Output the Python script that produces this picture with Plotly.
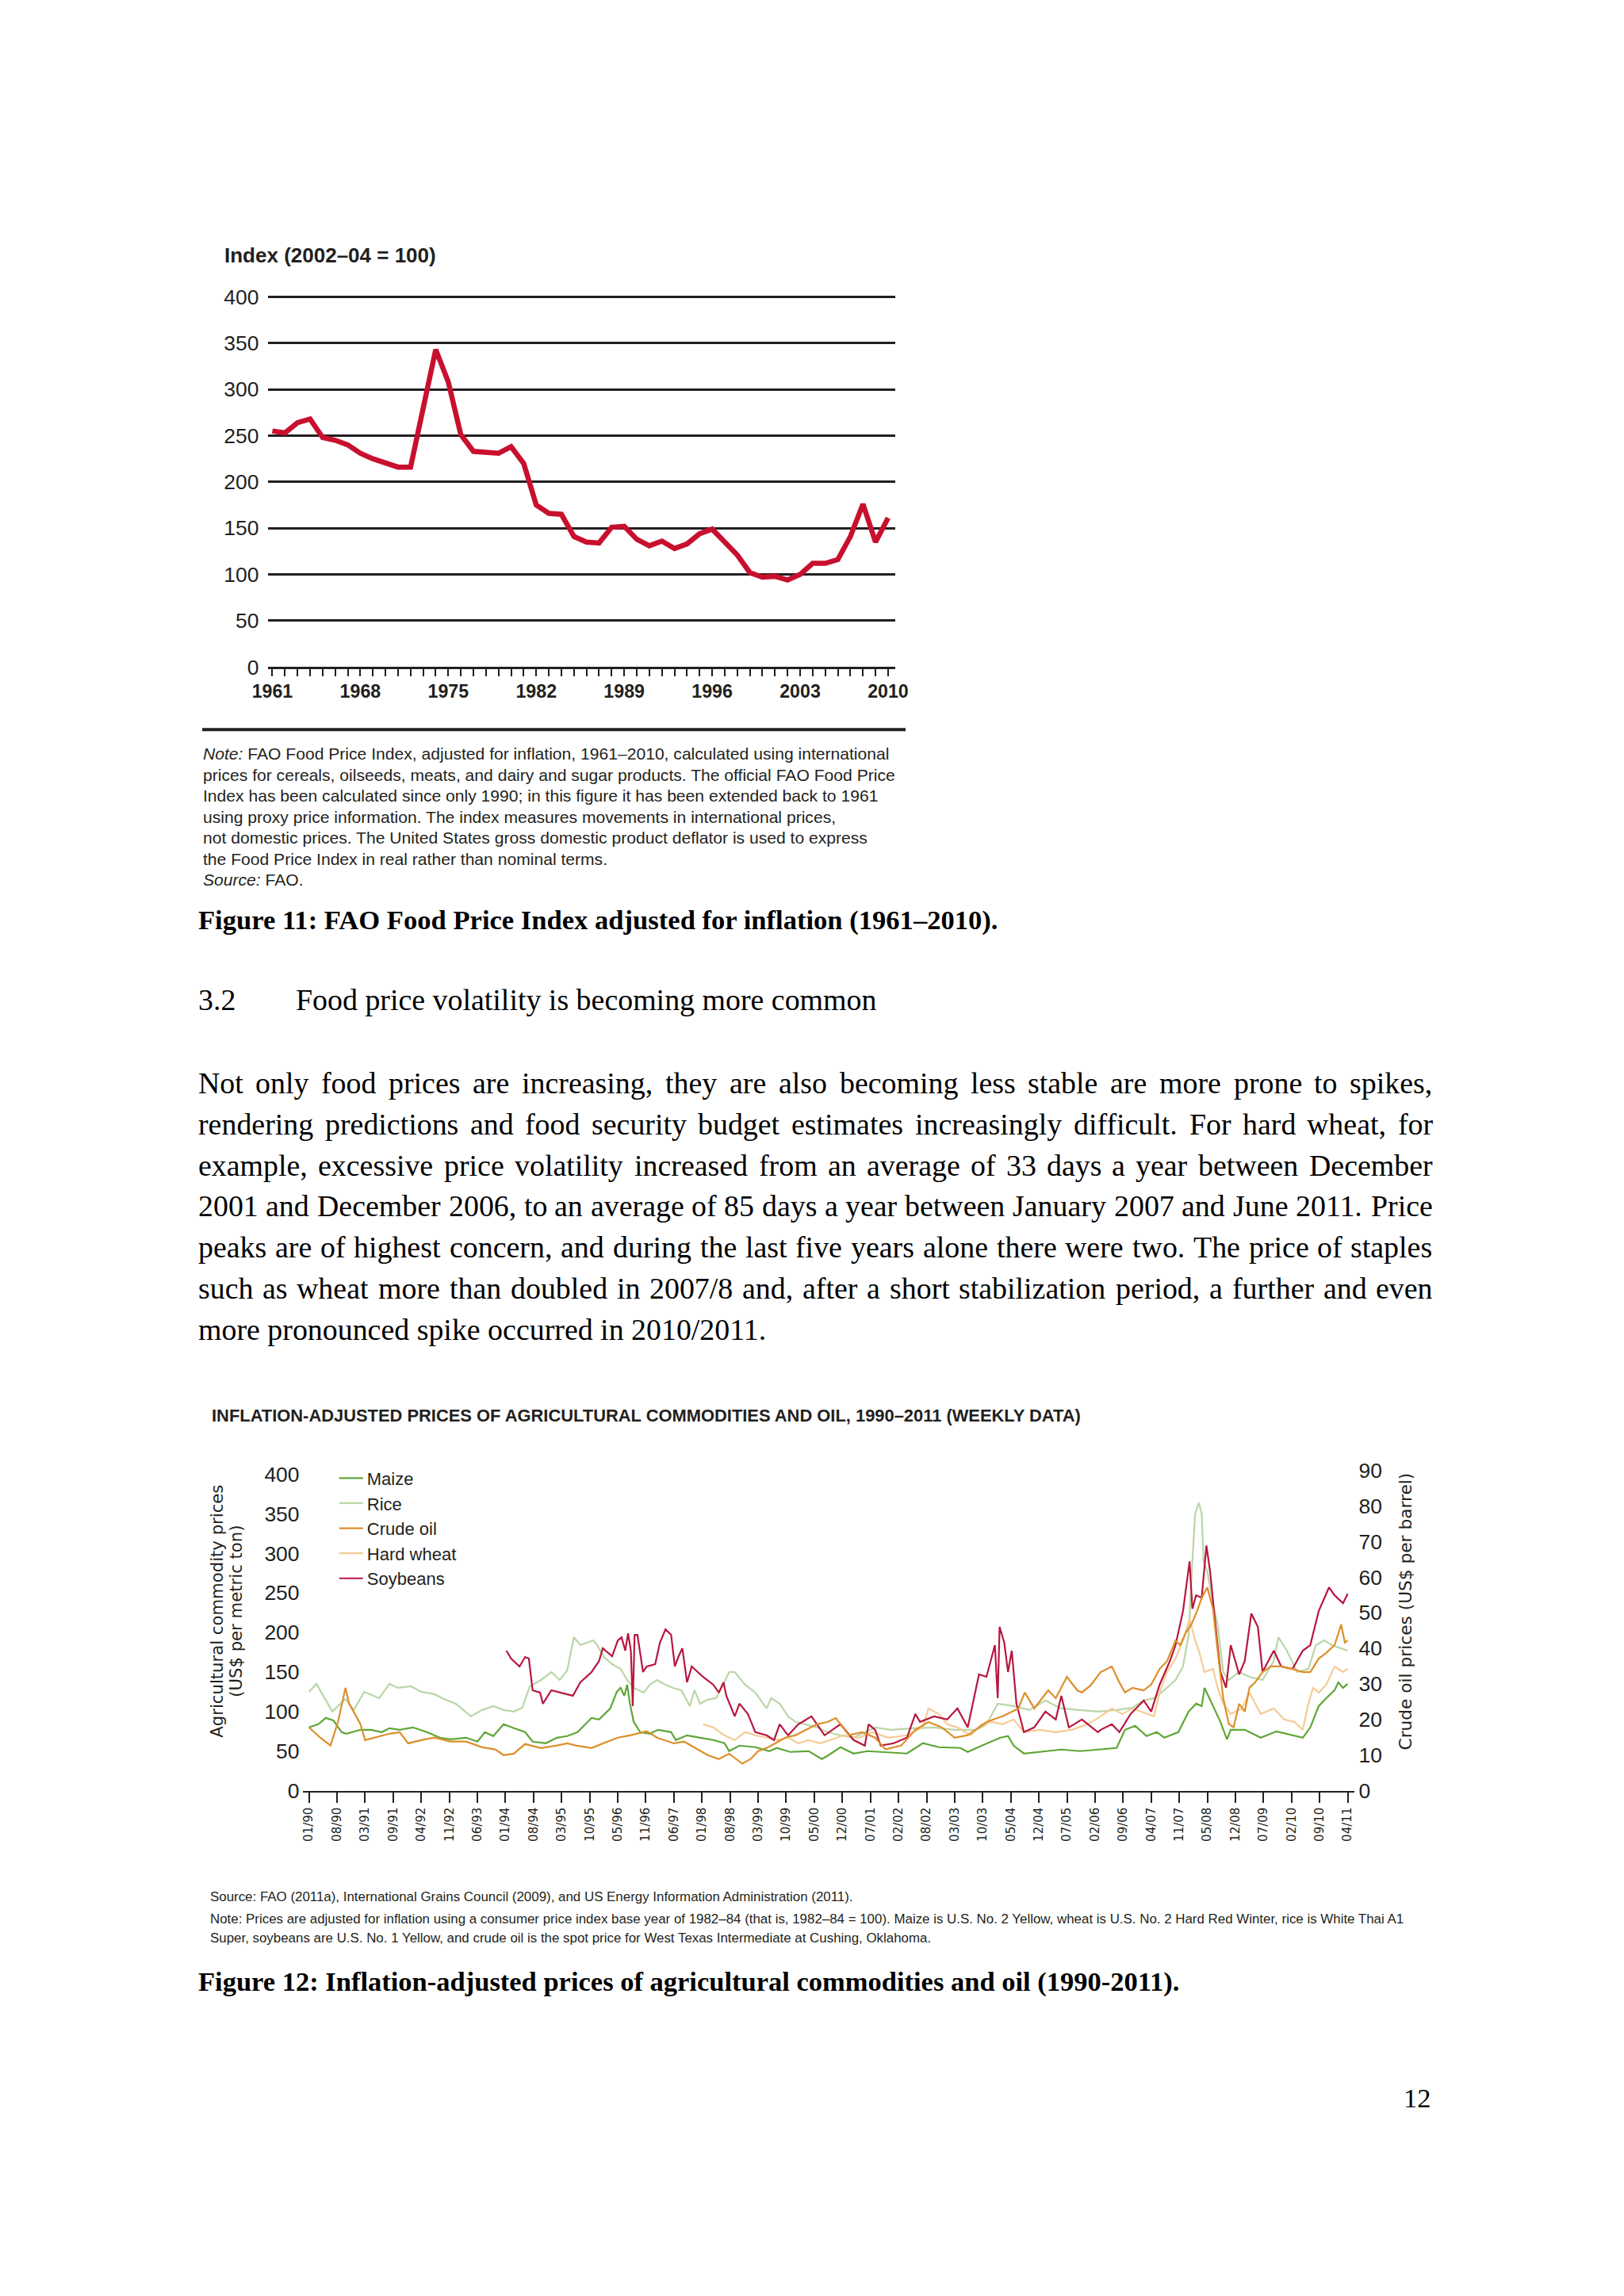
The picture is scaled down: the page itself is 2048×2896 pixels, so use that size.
import plotly.graph_objects as go

W, H = 2048, 2896
# empirical placement calibration (target page px -> figure px)
AX, BX = 0.977, 30.0
AY, BY = 0.9894, 21.9
def px(x): return ((x - BX) / AX) / W
def py(y): return 1 - ((y - BY) / AY) / H

SANS = "Liberation Sans, Arial, sans-serif"
SERIF = "Liberation Serif, Times New Roman, serif"
VERD = "DejaVu Sans, Verdana, sans-serif"
INK = "#231f20"

# ---------------- Figure 11 data ----------------
fao_years = list(range(1961, 2011))
fao_index = [255, 253, 264, 268, 248, 245, 240, 231, 225, 220, 216, 216, 277, 343, 308,
             251, 233, 232, 231, 238, 220, 175, 166, 165, 141, 135, 134, 151, 152, 138,
             131, 136, 128, 133, 144, 149, 135, 121, 102, 97, 98, 94, 100, 112, 112,
             116, 141, 176, 135, 161]
fao_label_years = [1961, 1968, 1975, 1982, 1989, 1996, 2003, 2010]
fao_yticks = [0, 50, 100, 150, 200, 250, 300, 350, 400]

# ---------------- Figure 12 data (x = week number since 01/1990) ----------------
tick_labels = ["01/90", "08/90", "03/91", "09/91", "04/92", "11/92", "06/93", "01/94", "08/94",
               "03/95", "10/95", "05/96", "11/96", "06/97", "01/98", "08/98", "03/99", "10/99",
               "05/00", "12/00", "07/01", "02/02", "08/02", "03/03", "10/03", "05/04", "12/04",
               "07/05", "02/06", "09/06", "04/07", "11/07", "05/08", "12/08", "07/09", "02/10",
               "09/10", "04/11"]
tick_weeks = [30 * i for i in range(len(tick_labels))]

maize_wk = [0, 10, 18, 26, 35, 40, 55, 66, 78, 86, 97, 111, 126, 140, 151, 168, 180, 188, 197, 208,
            219, 231, 239, 253, 265, 276, 287, 302, 310, 322, 329, 333, 337, 340, 343, 347, 354, 364,
            373, 387, 392, 404, 418, 432, 444, 449, 460, 477, 492, 500, 514, 534, 548, 554, 568, 582,
            597, 611, 639, 656, 673, 696, 704, 719, 739, 747, 753, 764, 781, 804, 824, 843, 863, 872,
            883, 895, 906, 914, 929, 940, 948, 954, 957, 961, 966, 974, 981, 985, 1000, 1017, 1034,
            1051, 1062, 1070, 1079, 1087, 1096, 1100, 1105, 1110]
maize_val = [80, 84, 92, 89, 74, 72, 77, 77, 74, 79, 77, 80, 74, 67, 65, 67, 62, 74, 69, 84,
             79, 74, 62, 60, 67, 69, 74, 92, 90, 104, 125, 130, 120, 134, 110, 87, 74, 72,
             77, 74, 64, 70, 67, 64, 60, 50, 57, 55, 50, 54, 49, 50, 40, 44, 55, 47,
             50, 49, 47, 60, 55, 54, 49, 57, 67, 69, 57, 47, 49, 52, 50, 52, 54, 77,
             82, 69, 74, 67, 74, 100, 110, 107, 130, 120, 107, 87, 65, 77, 77, 67, 75,
             70, 67, 80, 107, 117, 127, 137, 130, 135]

rice_wk = [0, 8, 25, 39, 48, 59, 75, 86, 95, 109, 120, 134, 146, 157, 173, 185, 197, 208, 219, 228,
           236, 248, 259, 268, 276, 283, 290, 304, 308, 315, 324, 333, 340, 347, 358, 364, 372, 381,
           389, 398, 407, 412, 418, 426, 435, 441, 449, 455, 466, 477, 489, 494, 503, 512, 520, 529,
           543, 554, 568, 582, 605, 622, 645, 668, 690, 713, 724, 736, 753, 770, 787, 804, 824, 843,
           863, 880, 892, 903, 914, 926, 934, 940, 944, 947, 951, 954, 956, 960, 966, 971, 977, 983,
           994, 1005, 1019, 1031, 1036, 1045, 1056, 1068, 1076, 1085, 1093, 1102, 1110]
rice_val = [125, 135, 100, 116, 102, 125, 117, 135, 130, 132, 125, 122, 115, 110, 94, 102, 107, 102, 100, 105,
            132, 140, 150, 140, 152, 194, 184, 190, 184, 169, 160, 154, 140, 130, 124, 134, 140, 134,
            130, 127, 107, 127, 110, 115, 117, 130, 150, 150, 134, 124, 104, 117, 110, 94, 87, 84,
            80, 74, 70, 67, 80, 77, 79, 80, 77, 77, 84, 110, 107, 102, 114, 104, 102, 100,
            102, 105, 114, 117, 127, 140, 157, 197, 290, 350, 364, 350, 290, 277, 237, 210, 150, 140,
            150, 144, 140, 164, 194, 177, 150, 154, 184, 190, 184, 180, 177]

crude_wk = [0, 12, 23, 31, 39, 43, 49, 55, 60, 75, 86, 97, 106, 120, 134, 151, 168, 185, 199, 208,
            219, 231, 248, 265, 276, 285, 302, 319, 330, 344, 361, 372, 390, 401, 415, 426, 438, 449,
            463, 472, 480, 489, 497, 509, 520, 531, 543, 554, 563, 577, 591, 605, 616, 633, 648, 662,
            676, 690, 704, 724, 741, 758, 765, 775, 790, 798, 810, 821, 826, 835, 846, 858, 866, 872,
            880, 892, 900, 909, 917, 926, 931, 937, 943, 949, 954, 960, 966, 971, 977, 983, 988, 994,
            1000, 1005, 1011, 1019, 1028, 1039, 1051, 1062, 1070, 1079, 1087, 1096, 1103, 1107, 1110]
crude_val = [17.8, 14.9, 12.7, 19.3, 28.9, 24.4, 21.6, 18.7, 14.2, 15.3, 16.0, 16.4, 13.3, 14.2, 14.9, 13.8, 13.8, 12.2, 11.6, 10.0,
             10.4, 13.1, 12.0, 12.7, 13.3, 12.7, 12.0, 13.8, 14.9, 15.6, 16.7, 14.9, 13.3, 13.8, 11.6, 10.0, 8.9, 10.4,
             7.6, 8.9, 11.1, 12.0, 13.1, 14.9, 15.6, 17.1, 18.7, 19.3, 20.4, 15.6, 16.4, 14.9, 11.6, 12.7, 17.1, 19.3,
             17.8, 14.9, 15.6, 19.3, 20.9, 23.1, 27.6, 23.1, 28.2, 26.0, 32.0, 28.2, 27.6, 29.5, 33.3, 34.9, 30.4, 27.6,
             28.9, 28.2, 29.8, 34.2, 36.4, 42.2, 40.9, 44.4, 46.7, 50.4, 54.2, 57.1, 51.1, 39.3, 26.0, 18.7, 17.8, 24.4,
             22.2, 28.9, 30.4, 33.3, 34.9, 34.9, 34.2, 33.3, 33.3, 37.1, 38.7, 40.9, 46.7, 41.6, 42.2]

wheat_wk = [421, 432, 444, 455, 466, 477, 489, 500, 512, 523, 534, 546, 557, 571, 588, 602, 619, 639, 656, 662,
            673, 682, 693, 707, 719, 730, 741, 753, 764, 781, 798, 815, 832, 846, 858, 869, 880, 892, 903, 909,
            917, 926, 934, 941, 947, 951, 957, 966, 971, 977, 985, 997, 1005, 1017, 1031, 1042, 1053, 1062, 1068,
            1073, 1079, 1087, 1096, 1105, 1110]
wheat_val = [84, 80, 70, 64, 74, 70, 67, 64, 67, 60, 64, 60, 64, 70, 67, 74, 67, 70, 80, 104,
             97, 84, 80, 70, 84, 87, 84, 90, 74, 77, 74, 77, 84, 94, 104, 97, 104, 99, 94, 124,
             150, 167, 190, 217, 190, 177, 150, 154, 130, 110, 97, 104, 124, 97, 104, 90, 87, 77, 110,
             130, 124, 134, 157, 150, 154]

soy_wk = [211, 216, 225, 231, 235, 239, 247, 250, 259, 270, 282, 290, 302, 310, 314, 324, 330, 334, 338, 341,
          344, 346, 348, 351, 357, 361, 370, 375, 381, 387, 391, 395, 399, 404, 409, 421, 432, 438, 443, 446,
          455, 460, 469, 477, 489, 497, 503, 512, 523, 537, 551, 563, 568, 582, 594, 598, 605, 611, 625, 639,
          648, 653, 668, 682, 693, 704, 716, 724, 733, 736, 738, 743, 747, 751, 756, 764, 775, 787, 798, 804,
          812, 826, 843, 846, 858, 866, 878, 892, 900, 909, 920, 926, 934, 941, 944, 948, 954, 959, 963, 968,
          974, 980, 985, 994, 1000, 1007, 1014, 1019, 1031, 1039, 1051, 1062, 1070, 1079, 1090, 1096, 1105, 1110]
soy_val = [177, 167, 157, 169, 167, 127, 124, 110, 127, 124, 120, 137, 150, 164, 180, 170, 190, 194, 177, 199,
           177, 107, 197, 197, 150, 157, 160, 187, 204, 197, 157, 170, 180, 137, 157, 144, 134, 124, 137, 120,
           94, 110, 97, 74, 70, 64, 84, 70, 84, 94, 70, 80, 84, 64, 57, 84, 77, 57, 60, 67,
           97, 87, 94, 90, 104, 80, 147, 144, 184, 117, 207, 187, 150, 177, 110, 74, 80, 100, 90, 120,
           80, 90, 74, 77, 84, 74, 97, 114, 100, 134, 164, 184, 227, 290, 230, 247, 244, 310, 277, 217,
           150, 130, 184, 147, 164, 224, 207, 150, 177, 157, 154, 177, 184, 227, 257, 247, 237, 249]

left_ticks = [0, 50, 100, 150, 200, 250, 300, 350, 400]
right_ticks = [0, 10, 20, 30, 40, 50, 60, 70, 80, 90]

series = [
    ("Maize", maize_wk, maize_val, "#5fa636", "y2"),
    ("Rice", rice_wk, rice_val, "#bad6a6", "y2"),
    ("Crude oil", crude_wk, crude_val, "#dc8f2a", "y3"),
    ("Hard wheat", wheat_wk, wheat_val, "#f4cc96", "y2"),
    ("Soybeans", soy_wk, soy_val, "#b8173f", "y2"),
]

# ---------------- Text ----------------
note11 = [
    "<i>Note:</i> FAO Food Price Index, adjusted for inflation, 1961–2010, calculated using international",
    "prices for cereals, oilseeds, meats, and dairy and sugar products. The official FAO Food Price",
    "Index has been calculated since only 1990; in this figure it has been extended back to 1961",
    "using proxy price information. The index measures movements in international prices,",
    "not domestic prices. The United States gross domestic product deflator is used to express",
    "the Food Price Index in real rather than nominal terms.",
    "<i>Source:</i> FAO.",
]
note11_y = [949, 976, 1002, 1029, 1055, 1082, 1108]

para = [
    "Not only food prices are increasing, they are also becoming less stable are more prone to spikes,",
    "rendering predictions and food security budget estimates increasingly difficult. For hard wheat, for",
    "example, excessive price volatility increased from an average of 33 days a year between December",
    "2001 and December 2006, to an average of 85 days a year between January 2007 and June 2011. Price",
    "peaks are of highest concern, and during the last five years alone there were two. The price of staples",
    "such as wheat more than doubled in 2007/8 and, after a short stabilization period, a further and even",
    "more pronounced spike occurred in 2010/2011.",
]
para_y = [1365, 1417, 1469, 1520, 1572, 1624, 1675]

foot12 = [
    "Source: FAO (2011a), International Grains Council (2009), and US Energy Information Administration (2011).",
    "Note: Prices are adjusted for inflation using a consumer price index base year of 1982–84 (that is, 1982–84 = 100). Maize is U.S. No. 2 Yellow, wheat is U.S. No. 2 Hard Red Winter, rice is White Thai A1",
    "Super, soybeans are U.S. No. 1 Yellow, and crude oil is the spot price for West Texas Intermediate at Cushing, Oklahoma.",
]
foot12_y = [2391, 2419, 2443]

# Times Roman advance widths (per 1000 em) for justification
TW = {' ': 250, ',': 250, '.': 250, '/': 278, ':': 278, ';': 278, '-': 333, '(': 333, ')': 333, '–': 500}
TW.update({c: 500 for c in "0123456789"})
TW.update(dict(zip("abcdefghijklmnopqrstuvwxyz",
                   [444, 500, 444, 500, 444, 333, 500, 500, 278, 278, 500, 278, 778, 500, 500, 500, 500,
                    333, 389, 278, 500, 500, 722, 500, 500, 444])))
TW.update(dict(zip("ABCDEFGHIJKLMNOPQRSTUVWXYZ",
                   [722, 667, 667, 722, 611, 556, 722, 722, 333, 389, 722, 611, 889, 722, 722, 556, 722,
                    667, 556, 611, 722, 722, 944, 722, 722, 611])))

def tw(s, size):
    return sum(TW.get(c, 500) for c in s) * size / 1000.0

fig = go.Figure()

fig.add_trace(go.Scatter(x=fao_years, y=fao_index, mode="lines", xaxis="x", yaxis="y",
                         line=dict(color="#c8102e", width=6.5), showlegend=False,
                         hoverinfo="skip"))

for name, wk, val, col, ax in series:
    fig.add_trace(go.Scatter(x=wk, y=val, mode="lines", name=name, xaxis="x2", yaxis=ax,
                             line=dict(color=col, width=2.2)))

annos = []
def T(text, x, y, size, family=SANS, color=INK, xanchor="left", angle=0, yanchor="middle"):
    annos.append(dict(text=text, x=px(x), y=py(y), xref="paper", yref="paper",
                      xanchor=xanchor, yanchor=yanchor, showarrow=False, borderpad=0,
                      textangle=angle, font=dict(family=family, size=size, color=color)))

# Figure 11 texts
T("<b>Index (2002–04 = 100)</b>", 282, 321, 26)
for line, y in zip(note11, note11_y):
    T(line, 255, y, 21.1)
T("<b>Figure 11: FAO Food Price Index adjusted for inflation (1961–2010).</b>", 249, 1159, 34.6,
  SERIF, "#000000")

# Body
BODY = 37.9
T("3.2", 249, 1260, BODY, SERIF, "#000000")
T("Food price volatility is becoming more common", 371, 1260, BODY, SERIF, "#000000")
L0, R0 = 249, 1799
for i, (line, y) in enumerate(zip(para, para_y)):
    words = line.split(" ")
    if i == len(para) - 1:
        T(line, L0, y, BODY, SERIF, "#000000")
        continue
    widths = [tw(w, BODY) for w in words]
    gap = (R0 - L0 - sum(widths)) / (len(words) - 1)
    x = L0
    for w, wd in zip(words, widths):
        T(w, x, y, BODY, SERIF, "#000000")
        x += wd + gap

# Figure 12 texts
T("<b>INFLATION-ADJUSTED PRICES OF AGRICULTURAL COMMODITIES AND OIL, 1990–2011 (WEEKLY DATA)</b>",
  266, 1784, 21.9)
T("Agricultural commodity prices", 273, 2031, 21.2, VERD, angle=-90, xanchor="center")
T("(US$ per metric ton)", 297, 2031, 21.2, VERD, angle=-90, xanchor="center")
T("Crude oil prices (US$ per barrel)", 1766, 2031, 21.7, VERD, angle=-90, xanchor="center")
for line, y in zip(foot12, foot12_y):
    T(line, 264, y, 16.9)
T("<b>Figure 12: Inflation-adjusted prices of agricultural commodities and oil (1990-2011).</b>",
  249, 2498, 34.5, SERIF, "#000000")
T("12", 1799, 2644, 34.5, SERIF, "#000000", xanchor="right")

fig.update_layout(
    width=W, height=H, autosize=False,
    margin=dict(l=0, r=0, t=0, b=0),
    paper_bgcolor="white", plot_bgcolor="rgba(0,0,0,0)",
    annotations=annos,
    shapes=[dict(type="line", xref="paper", yref="paper", x0=px(255), x1=px(1138),
                 y0=py(919), y1=py(919), line=dict(color=INK, width=4))],
    showlegend=True,
    legend=dict(x=px(422), y=py(1842), xanchor="left", yanchor="top",
                font=dict(family=SANS, size=22, color=INK),
                bgcolor="rgba(0,0,0,0)", tracegroupgap=0, itemwidth=30),
    xaxis=dict(domain=[px(338), px(1125)], anchor="y", range=[1960.68, 2010.57],
               tickmode="array", tickvals=fao_years,
               ticktext=[str(y) if y in fao_label_years else "" for y in fao_years],
               ticks="outside", ticklen=9, tickwidth=2, tickcolor=INK,
               showline=True, linecolor=INK, linewidth=3, showgrid=False, zeroline=False,
               tickfont=dict(family=SANS, size=23.2, color=INK, weight="bold"), tickangle=0,
               ticklabelstandoff=-1),
    yaxis=dict(domain=[py(840), py(372)], anchor="x", range=[0, 401],
               tickmode="array", tickvals=fao_yticks, ticks="", showline=False,
               showgrid=True, gridcolor=INK, gridwidth=2.5, zeroline=False,
               tickfont=dict(family=SANS, size=26.5, color=INK), ticklabelstandoff=11),
    xaxis2=dict(domain=[px(381), px(1701)], anchor="y2", range=[-6.8, 1116.8],
                tickmode="array", tickvals=tick_weeks, ticktext=tick_labels, tickangle=-90,
                ticks="outside", ticklen=13, tickwidth=2, tickcolor=INK,
                showline=True, linecolor=INK, linewidth=2, showgrid=False, zeroline=False,
                tickfont=dict(family=VERD, size=15, color=INK)),
    yaxis2=dict(domain=[py(2257), py(1853)], anchor="x2", range=[0, 405],
                tickmode="array", tickvals=left_ticks, ticks="", showline=False, showgrid=False,
                zeroline=False, tickfont=dict(family=SANS, size=26.5, color=INK),
                ticklabelstandoff=3),
    yaxis3=dict(overlaying="y2", anchor="x2", side="right", range=[0, 90],
                tickmode="array", tickvals=right_ticks, ticks="", showline=False, showgrid=False,
                zeroline=False, tickfont=dict(family=SANS, size=26.5, color=INK),
                ticklabelstandoff=5),
)

fig.write_html("out.html")
